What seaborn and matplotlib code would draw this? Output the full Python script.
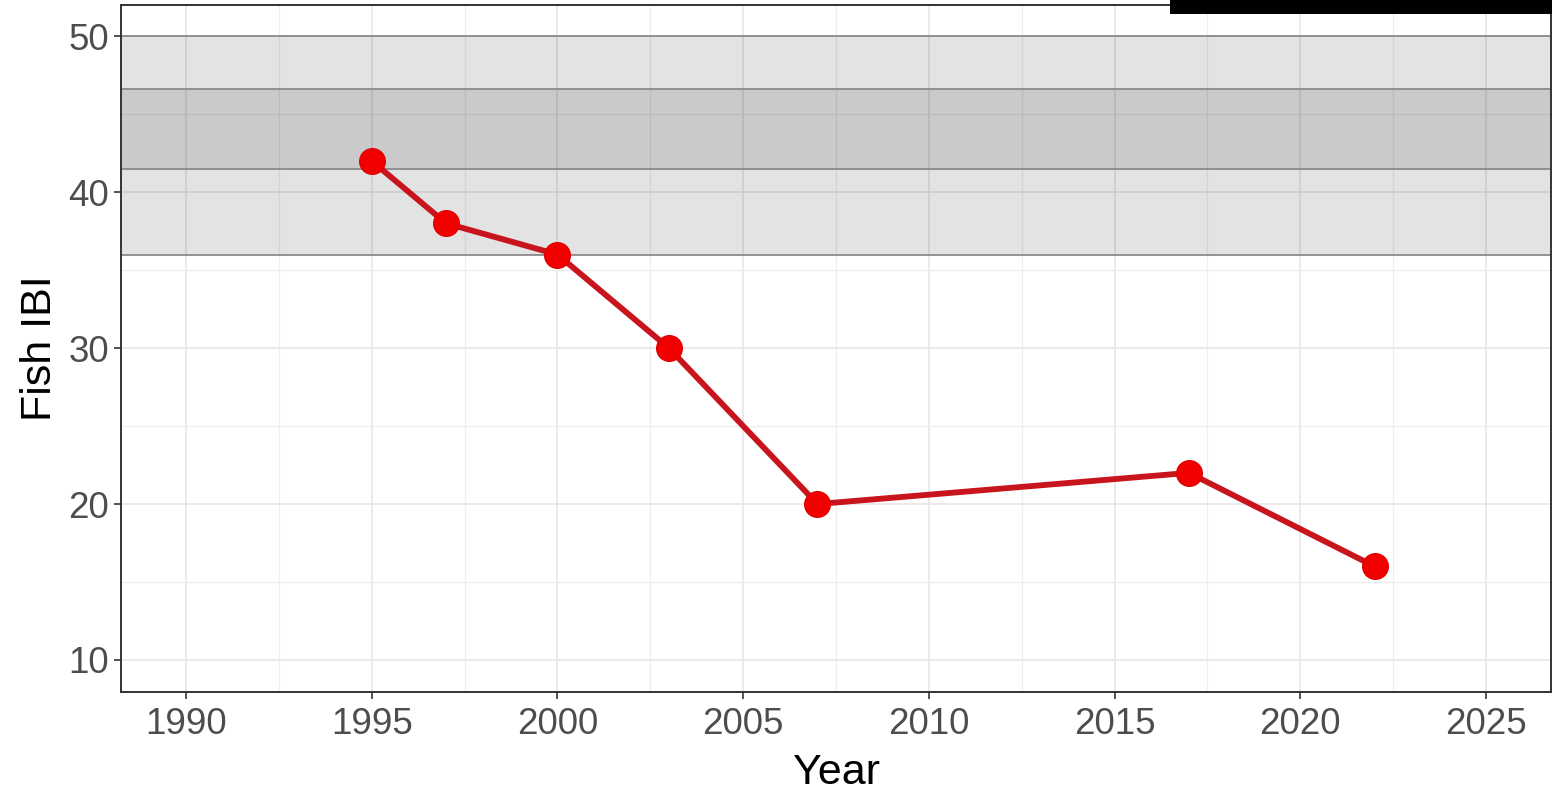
import seaborn as sns
import matplotlib.pyplot as plt
import pandas as pd
from matplotlib.ticker import MultipleLocator

years = [1995, 1997, 2000, 2003, 2007, 2017, 2022]
fish_ibi = [42, 38, 36, 30, 20, 22, 16]
outer_band = (36, 50)
inner_band = (41.5, 46.6)
x_ticks = [1990, 1995, 2000, 2005, 2010, 2015, 2020, 2025]
y_ticks = [10, 20, 30, 40, 50]

df = pd.DataFrame({'Year': years, 'Fish IBI': fish_ibi})

sns.set_style('white')
plt.rcParams['font.family'] = ['Liberation Sans', 'DejaVu Sans']

fig = plt.figure(figsize=(15.52, 7.95), dpi=100)
ax = fig.add_axes([0.078, 0.1296, 0.9214, 0.8641])

ax.set_axisbelow(True)
ax.xaxis.set_minor_locator(MultipleLocator(2.5))
ax.yaxis.set_minor_locator(MultipleLocator(5))
ax.grid(which='major', color='#e6e6e6', lw=1.2)
ax.grid(which='minor', color='#eeeeee', lw=0.9)

# reference bands (translucent, so the grid shows through)
for lo, hi in [outer_band, inner_band]:
    ax.axhspan(lo, hi, facecolor='black', alpha=0.11, edgecolor='none', zorder=1)
    ax.axhline(lo, color='#8a8a8a', lw=1.3, zorder=1.5)
    ax.axhline(hi, color='#8a8a8a', lw=1.3, zorder=1.5)

sns.lineplot(data=df, x='Year', y='Fish IBI', color='#c8141c', lw=4.2, ax=ax, zorder=3)
sns.scatterplot(data=df, x='Year', y='Fish IBI', color='#f20000', s=340,
                edgecolor='#e00000', linewidth=1, ax=ax, zorder=4)

ax.set_xlim(1988.25, 2026.75)
ax.set_ylim(7.95, 52.0)
ax.set_xticks(x_ticks)
ax.set_yticks(y_ticks)
ax.tick_params(axis='both', which='major', labelsize=26.5, labelcolor='#4d4d4d',
               color='#333333', length=5, width=1.2, direction='out',
               bottom=True, left=True)
ax.tick_params(axis='x', which='major', pad=6)
ax.tick_params(axis='both', which='minor', length=0)
ax.set_xlabel('Year', fontsize=31, color='black', labelpad=8)
ax.set_ylabel('Fish IBI', fontsize=31, color='black', labelpad=6)
for s in ax.spines.values():
    s.set_color('#333333')
    s.set_linewidth(1.4)

fig.patches.append(plt.Rectangle((0.7539, 0.9824), 0.2461, 0.0176, transform=fig.transFigure,
                                 facecolor='black', edgecolor='none', zorder=10))

fig.savefig('out.png', dpi=100)
